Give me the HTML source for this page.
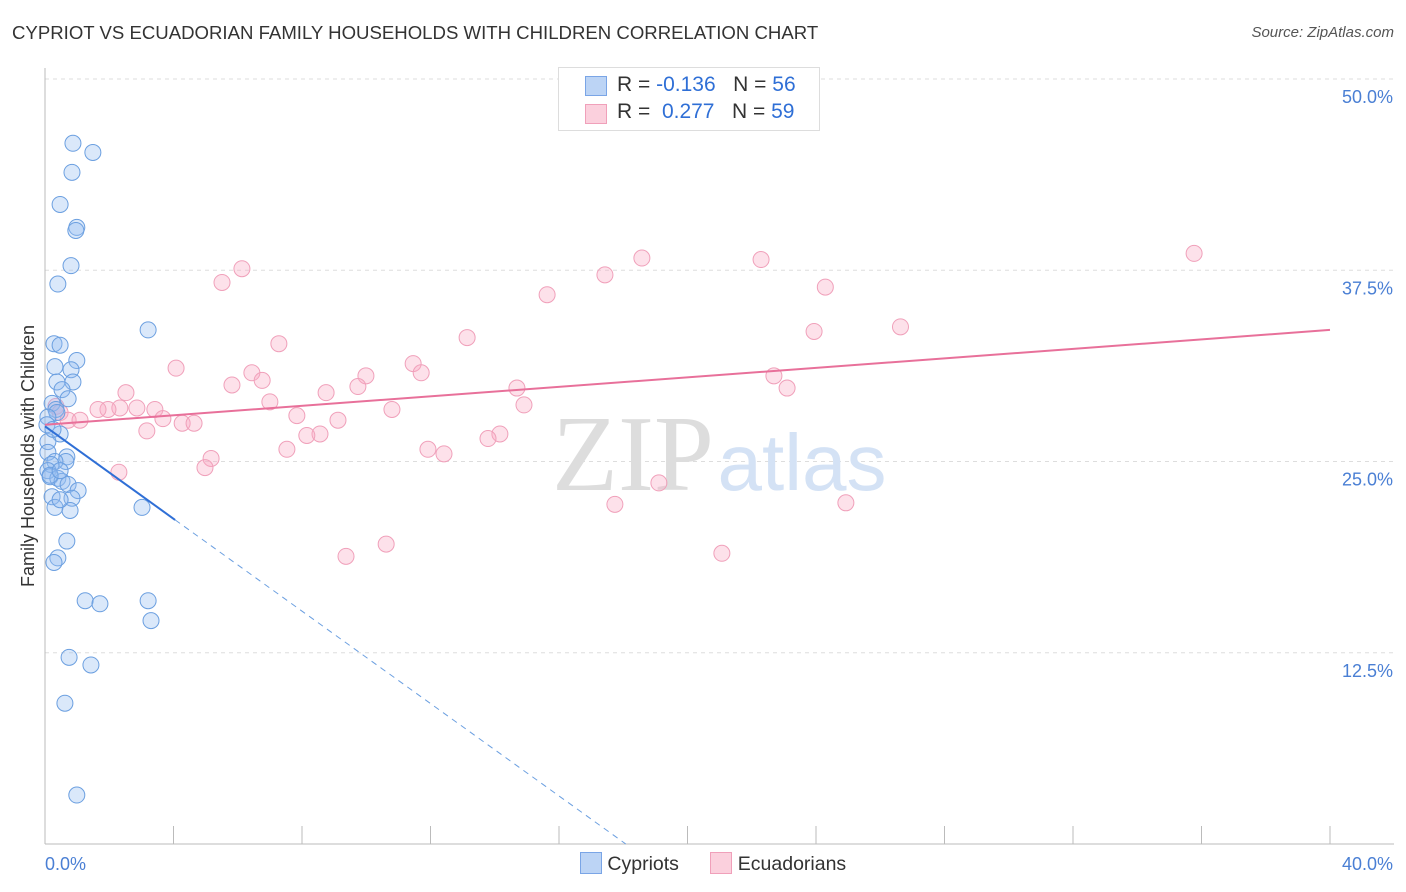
<!DOCTYPE html>
<html><head><meta charset="utf-8">
<style>
body{margin:0;background:#fff;font-family:"Liberation Sans",sans-serif;}
#wrap{position:relative;width:1406px;height:892px;overflow:hidden;}
.t{position:absolute;white-space:nowrap;}
</style></head><body>
<div id="wrap">
<div class="t" style="left:12px;top:22px;font-size:18.6px;color:#333;">CYPRIOT VS ECUADORIAN FAMILY HOUSEHOLDS WITH CHILDREN CORRELATION CHART</div>
<div class="t" style="right:12px;top:24px;font-size:15px;color:#555;font-style:italic;">Source: ZipAtlas.com</div>
<svg id="svg" width="1406" height="892" style="position:absolute;left:0;top:0"></svg>
</div>
<script>
const yTicks=[12.5,25,37.5,50];
const yTickLabels=["12.5%","25.0%","37.5%","50.0%"];
const xTickLabels=["0.0%","40.0%"];
const cypX=[0.87,1.49,0.84,0.47,0.99,0.96,0.81,0.40,3.21,0.28,0.47,0.99,0.31,0.81,0.37,0.87,0.53,0.72,0.22,0.34,0.37,0.09,0.47,0.09,0.09,0.68,0.65,0.31,0.19,0.09,0.16,0.40,0.53,0.72,1.03,0.22,0.84,0.31,0.78,3.02,0.68,0.40,0.28,1.25,1.71,3.21,3.30,0.75,1.43,0.62,0.99,0.16,0.47,0.06,0.25,0.47];
const cypY=[45.8,45.2,43.9,41.8,40.3,40.1,37.8,36.6,33.6,32.7,32.6,31.6,31.2,31.0,30.2,30.2,29.7,29.1,28.8,28.4,28.2,27.9,26.8,26.3,25.6,25.3,25.0,25.0,24.8,24.4,24.0,23.9,23.7,23.5,23.1,22.7,22.6,22.0,21.8,22.0,19.8,18.7,18.4,15.9,15.7,15.9,14.6,12.2,11.7,9.2,3.2,24.1,24.4,27.4,27.1,22.5];
const ecuX=[35.77,18.58,22.29,6.13,17.43,5.51,24.29,15.63,26.63,23.94,13.14,7.28,4.08,11.46,6.44,9.99,11.71,6.76,5.82,9.74,22.69,2.52,14.69,23.10,7.00,8.75,2.33,2.86,3.42,1.96,10.80,14.91,7.84,0.34,0.47,0.72,1.09,3.67,4.27,4.64,9.12,3.17,8.56,8.15,14.16,13.79,7.53,11.92,12.42,5.17,4.98,2.30,19.11,17.74,24.93,21.07,10.62,9.37,1.65];
const ecuY=[38.6,38.3,38.2,37.6,37.2,36.7,36.4,35.9,33.8,33.5,33.1,32.7,31.1,31.4,30.8,30.6,30.8,30.3,30.0,29.9,30.6,29.5,29.8,29.8,28.9,29.5,28.5,28.5,28.4,28.4,28.4,28.7,28.0,28.6,28.2,27.7,27.7,27.8,27.5,27.5,27.7,27.0,26.8,26.7,26.8,26.5,25.8,25.8,25.5,25.2,24.6,24.3,23.6,22.2,22.3,19.0,19.6,18.8,28.4];
const X0=45,X1=1330,Y0=844,Y1=79;
const sx=v=>X0+(v/40)*(X1-X0);
const sy=v=>Y0-(v/50)*(Y0-Y1);
const svg=document.getElementById('svg');const NS='http://www.w3.org/2000/svg';
function mk(tag,attrs){const e=document.createElementNS(NS,tag);for(const k in attrs)e.setAttribute(k,attrs[k]);svg.appendChild(e);return e;}
yTicks.forEach((v,i)=>{
const g=mk('line',{x1:X0,x2:1394,y1:sy(v),y2:sy(v),stroke:'#ddd','stroke-dasharray':'4,4'});


const t=mk('text',{x:1393,y:sy(v)+24,'text-anchor':'end','font-size':18,fill:'#4a7fd4','font-family':'Liberation Sans'});t.textContent=yTickLabels[i];


});
mk('line',{x1:X0,x2:X0,y1:68,y2:Y0,stroke:'#bbb'});
const xa=mk('line',{x1:X0,x2:1394,y1:Y0,y2:Y0,stroke:'#bbb'});


for(let i=1;i<=10;i++){mk('line',{x1:sx(i*4),x2:sx(i*4),y1:826,y2:Y0,stroke:'#bbb'});}
const xl0=mk('text',{x:45,y:870,'font-size':18,fill:'#4a7fd4','font-family':'Liberation Sans'});xl0.textContent=xTickLabels[0];


const xl1=mk('text',{x:1393,y:870,'text-anchor':'end','font-size':18,fill:'#4a7fd4','font-family':'Liberation Sans'});xl1.textContent=xTickLabels[1];


const yt=mk('text',{x:34,y:456,'text-anchor':'middle','font-size':18,fill:'#333','font-family':'Liberation Sans',transform:'rotate(-90 34 456)'});yt.textContent='Family Households with Children';


const w1=mk('text',{x:633,y:490,'text-anchor':'middle','font-size':108,fill:'#ddd','font-family':'Liberation Serif'});w1.textContent='ZIP';


const w2=mk('text',{x:802,y:490,'text-anchor':'middle','font-size':80,fill:'#d4e2f5','font-family':'Liberation Sans'});w2.textContent='atlas';


for(let i=0;i<ecuX.length;i++){const c=mk('circle',{cx:sx(ecuX[i]),cy:sy(ecuY[i]),r:8,fill:'rgba(248,170,195,0.35)',stroke:'#f0a0ba','stroke-width':1});

}
for(let i=0;i<cypX.length;i++){const c=mk('circle',{cx:sx(cypX[i]),cy:sy(cypY[i]),r:8,fill:'rgba(150,190,240,0.35)',stroke:'#6b9fe0','stroke-width':1});

}
const b0=27.3,bs=-1.51;
const tb=mk('line',{x1:sx(0),y1:sy(b0),x2:sx(4.05),y2:sy(b0+bs*4.05),stroke:'#2f6fd6','stroke-width':2});


mk('line',{x1:sx(4.05),y1:sy(b0+bs*4.05),x2:sx(b0/-bs),y2:sy(0),stroke:'#6b9fe0','stroke-width':1,'stroke-dasharray':'6,5'});
const p0=27.4,ps=0.155;
const tp=mk('line',{x1:sx(0),y1:sy(p0),x2:sx(40),y2:sy(p0+ps*40),stroke:'#e8709a','stroke-width':2});


</script>
<div class="t" style="left:558px;top:67px;width:260px;height:62px;border:1px solid #ddd;background:#fff;font-size:21px;color:#333;">
 <div style="position:absolute;left:26px;top:8px;width:20px;height:18px;background:#bcd4f5;border:1px solid #7aa5e6;"></div>
 <div style="position:absolute;left:58px;top:5px;">R = <span style="color:#2f6fd6">-0.136</span>&nbsp;&nbsp;&nbsp;N = <span style="color:#2f6fd6">56</span></div>
 <div style="position:absolute;left:26px;top:36px;width:20px;height:18px;background:#fbd0dd;border:1px solid #f0a0ba;"></div>
 <div style="position:absolute;left:58px;top:32px;">R = &nbsp;<span style="color:#2f6fd6">0.277</span>&nbsp;&nbsp;&nbsp;N = <span style="color:#2f6fd6">59</span></div>
</div>
<div class="t" style="left:580px;top:852px;font-size:19.5px;color:#333;">
 <span style="display:inline-block;width:20px;height:20px;background:#bcd4f5;border:1px solid #7aa5e6;vertical-align:-4px;"></span> Cypriots
 <span style="display:inline-block;width:20px;height:20px;background:#fbd0dd;border:1px solid #f0a0ba;vertical-align:-4px;margin-left:26px;"></span> Ecuadorians
</div>
</body></html>
